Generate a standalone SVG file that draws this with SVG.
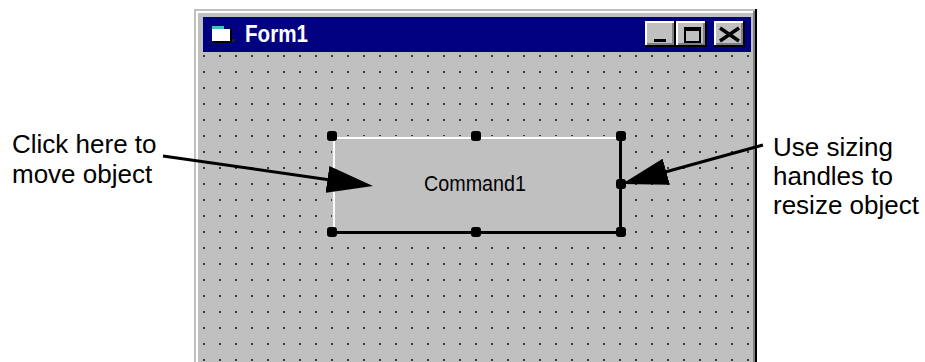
<svg xmlns="http://www.w3.org/2000/svg" width="925" height="362" viewBox="0 0 925 362">
<style>
.lbl{font-family:"Liberation Sans",Arial,sans-serif;font-size:26px;fill:#000}
.conn{stroke:#000;stroke-width:3;fill:none}
.hdl{fill:#000}
</style>
<defs>
<pattern id="dots" x="203" y="55" width="16" height="16" patternUnits="userSpaceOnUse">
<rect x="0" y="0" width="2" height="2" fill="#3a3a3a"/>
</pattern>
<marker id="ah" markerUnits="userSpaceOnUse" viewBox="0 0 46 27" markerWidth="46" markerHeight="27" refX="3" refY="13.5" orient="auto">
<path d="M0,0 L46,13.5 L0,27 Z" fill="#000"/>
</marker>
<g id="capbtn">
<rect width="31" height="26" fill="#c0c0c0"/>
<rect x="0" y="0" width="30" height="2" fill="#fff"/>
<rect x="0" y="0" width="2" height="25" fill="#fff"/>
<rect x="2" y="22" width="27" height="2" fill="#808080"/>
<rect x="27" y="2" width="2" height="22" fill="#808080"/>
<rect x="0" y="24" width="31" height="2" fill="#000"/>
<rect x="29" y="0" width="2" height="26" fill="#000"/>
</g>
</defs>
<rect width="925" height="362" fill="#fff"/>

<g id="form1-window">
<rect x="194" y="9" width="563" height="360" fill="#c0c0c0"/>
<rect x="196" y="11" width="557" height="2" fill="#fff"/>
<rect x="196" y="11" width="2" height="358" fill="#fff"/>
<rect x="753" y="11" width="2" height="358" fill="#808080"/>
<rect x="755" y="9" width="2" height="360" fill="#000"/>
<rect x="203" y="17" width="548" height="35" fill="#000080"/>
<g id="form-icon">
<rect x="212" y="26" width="12" height="3" fill="#40c0c0"/>
<rect x="212" y="29" width="18" height="12" fill="#fff"/>
<rect x="230" y="28" width="2" height="14" fill="#000"/>
<rect x="214" y="41" width="18" height="2" fill="#000"/>
<rect x="232" y="39" width="3" height="3" fill="#202020"/>
</g>
<text x="245" y="42" font-family="Liberation Sans,Arial,sans-serif" font-weight="bold" font-size="23" fill="#fff" textLength="63" lengthAdjust="spacingAndGlyphs">Form1</text>
<g id="btn-min">
<use href="#capbtn" x="645" y="21"/>
<rect x="654" y="39" width="12" height="3" fill="#000"/>
</g>
<g id="btn-max">
<use href="#capbtn" x="676" y="21"/>
<path d="M684,27 H701 V43 H684 Z M686,31 V41 H699 V31 Z" fill="#000" fill-rule="evenodd"/>
</g>
<g id="btn-close">
<use href="#capbtn" x="714" y="21"/>
<path d="M720,28 L739,41 M720,41 L739,28" stroke="#000" stroke-width="3.5"/>
</g>
<rect x="199" y="52" width="553" height="310" fill="url(#dots)"/>
</g>

<g id="command1">
<rect x="332" y="136" width="289" height="97" fill="#c0c0c0"/>
<rect x="333" y="137" width="288" height="2" fill="#fff"/>
<rect x="333" y="137" width="2" height="95" fill="#fff"/>
<rect x="332" y="231" width="290" height="3" fill="#000"/>
<rect x="619" y="136" width="3" height="98" fill="#000"/>
<text x="424" y="191" font-family="Liberation Sans,Arial,sans-serif" font-size="22" fill="#000" textLength="102" lengthAdjust="spacingAndGlyphs">Command1</text>
<g id="sizing-handles">
<rect class="hdl" x="327" y="131" width="10" height="10" rx="3"/>
<rect class="hdl" x="471" y="131" width="10" height="10" rx="3"/>
<rect class="hdl" x="616" y="131" width="10" height="10" rx="3"/>
<rect class="hdl" x="616" y="179" width="10" height="10" rx="3"/>
<rect class="hdl" x="327" y="227" width="10" height="10" rx="3"/>
<rect class="hdl" x="471" y="227" width="10" height="10" rx="3"/>
<rect class="hdl" x="616" y="227" width="10" height="10" rx="3"/>
</g>
</g>

<g id="label-move">
<text class="lbl" x="12" y="153">Click here to</text>
<text class="lbl" x="12" y="183">move object</text>
</g>
<g id="label-resize">
<text class="lbl" x="773" y="156">Use sizing</text>
<text class="lbl" x="773" y="185">handles to</text>
<text class="lbl" x="773" y="214">resize object</text>
</g>

<g id="connectors">
<line class="conn" x1="163" y1="156" x2="330.4" y2="179.9" marker-end="url(#ah)"/>
<line class="conn" x1="763" y1="145" x2="663.4" y2="172.5" marker-end="url(#ah)"/>
</g>
</svg>
